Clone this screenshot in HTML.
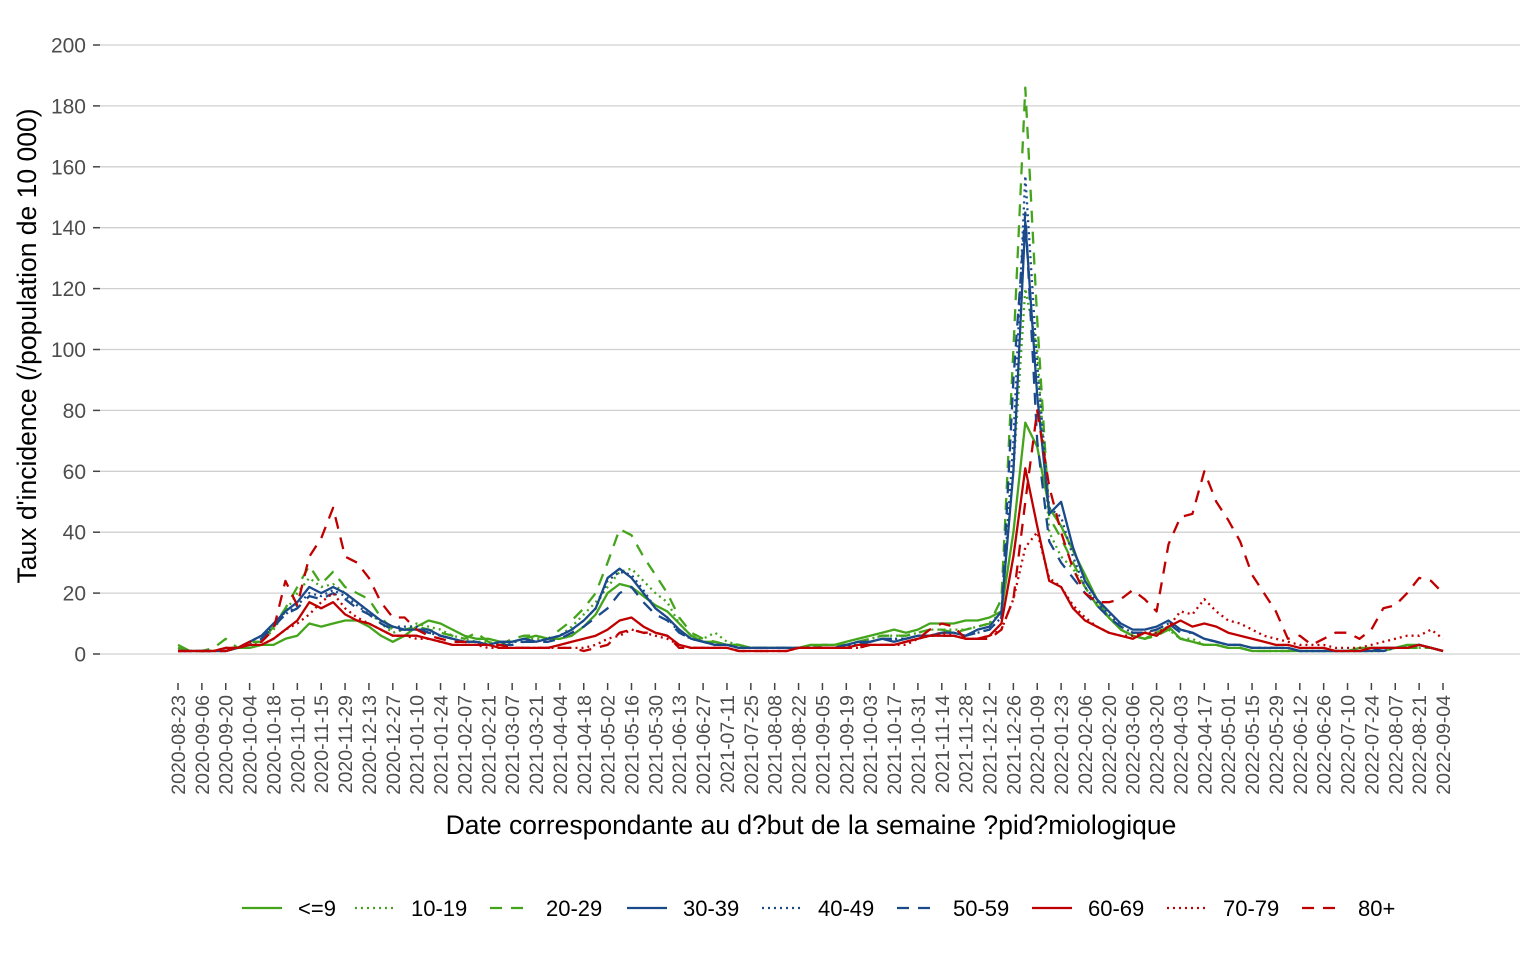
<!DOCTYPE html>
<html><head><meta charset="utf-8"><style>
body{margin:0;background:#fff;}
svg{display:block;font-family:"Liberation Sans",Arial,sans-serif;}
</style></head><body>
<svg id="c" width="1536" height="960"></svg>
<script>
const dates=[];
(function(){let d=new Date(Date.UTC(2020,7,23));for(let i=0;i<107;i++){dates.push(d.toISOString().slice(0,10));d=new Date(d.getTime()+7*864e5);}})();
const yTicks=[0,20,40,60,80,100,120,140,160,180,200];
const seriesNames=["<=9","10-19","20-29","30-39","40-49","50-59","60-69","70-79","80+"];
const s0=[2,1,1,1,1,2,2,3,3,5, 6,10,9,10,11,11,9,6,4,6, 9,11,10,8,6,5,5,4,4,5, 6,5,5,6,9,13,20,23,22,19, 16,14,10,6,4,4,3,3,2,2, 2,2,2,3,3,3,4,5,6,7, 8,7,8,10,10,10,11,11,12,14, 40,76,68,48,42,34,26,18,12,8, 6,5,7,9,5,4,3,3,2,2, 1,1,1,1,1,1,1,1,1,2, 2,2,2,3,3,2,1];
const s1=[2,1,1,1,2,2,3,4,8,14, 20,25,22,23,20,17,14,10,7,8, 10,9,8,6,5,4,4,3,4,5, 5,5,6,9,13,17,22,27,28,24, 20,17,10,6,5,7,4,3,2,2, 2,2,2,2,3,3,3,4,5,6, 6,6,7,8,8,8,8,9,10,14, 60,120,100,40,32,28,22,16,12,8, 6,5,6,8,5,5,3,3,2,2, 1,1,1,1,1,1,1,1,1,1, 1,1,2,2,2,2,1];
const s2=[3,1,1,2,5,2,4,4,9,15, 22,29,23,27,22,20,18,12,8,8, 9,8,7,6,5,7,4,3,5,6, 6,5,8,11,15,20,30,41,39,32, 26,20,12,7,5,4,3,3,2,2, 2,2,2,2,3,3,3,4,5,6, 6,6,7,8,8,7,8,9,10,18, 100,186,110,45,38,30,22,16,12,8, 6,5,6,8,5,4,3,3,2,2, 1,1,1,1,1,1,1,1,1,1, 1,1,2,2,2,2,1];
const s3=[1,1,1,1,1,2,4,6,10,14, 17,22,20,22,20,17,14,11,9,8, 8,8,6,5,4,4,3,4,4,5, 4,5,6,8,11,15,25,28,25,20, 15,12,8,5,4,3,3,2,2,2, 2,2,2,2,2,2,3,4,4,5, 4,5,6,6,7,7,6,8,9,14, 60,142,85,46,50,35,24,18,14,10, 8,8,9,11,8,7,5,4,3,3, 2,2,2,2,1,1,1,1,1,1, 1,2,2,2,3,2,1];
const s4=[1,1,1,1,2,2,4,6,9,13, 16,20,19,21,19,16,13,11,9,9, 9,7,6,5,4,4,3,3,4,4, 4,5,6,8,11,15,24,27,26,21, 15,12,7,5,4,3,3,2,2,2, 2,2,2,2,2,2,3,3,4,5, 5,5,6,6,7,7,6,7,8,12, 70,157,95,48,45,32,22,17,13,9, 7,7,8,10,8,7,5,4,3,3, 2,2,2,2,1,1,1,1,1,1, 1,1,2,2,3,2,1];
const s5=[1,1,1,1,1,2,3,5,9,13, 15,19,18,20,18,15,13,10,8,8, 8,7,6,5,4,4,3,3,3,4, 4,4,5,7,9,12,15,20,22,17, 13,11,7,5,4,3,3,2,2,2, 2,2,2,2,2,2,3,3,4,5, 5,5,6,6,6,6,6,7,8,12, 90,145,70,37,30,25,20,16,12,9, 7,7,8,10,7,7,5,4,3,3, 2,2,2,2,1,1,1,1,1,1, 1,1,2,2,3,2,1];
const s6=[1,1,1,1,2,2,3,3,5,8, 11,17,15,17,13,11,10,8,6,6, 6,5,4,3,3,3,3,2,2,2, 2,2,3,4,5,6,8,11,12,9, 7,6,3,2,2,2,2,1,1,1, 1,1,2,2,2,2,2,3,3,3, 3,4,5,6,6,6,5,5,6,10, 32,61,42,24,22,15,11,9,7,6, 5,7,6,9,11,9,10,9,7,6, 5,4,3,3,2,2,2,1,1,1, 2,2,2,2,3,2,1];
const s7=[1,1,1,1,1,2,3,3,5,8, 10,13,17,20,15,12,10,8,6,6, 5,5,4,3,3,3,2,2,2,2, 2,2,2,2,2,3,5,6,8,7, 6,5,3,2,2,2,2,1,1,1, 1,1,2,2,2,2,2,2,3,3, 3,3,5,6,7,6,5,5,6,8, 18,35,40,25,22,16,12,9,7,6, 6,7,7,9,14,13,18,14,11,10, 8,6,5,4,3,3,3,2,2,2, 3,4,5,6,6,8,5];
const s8=[1,1,1,1,1,2,4,4,8,24, 16,32,38,48,32,30,25,17,12,12, 8,6,5,4,4,3,3,3,2,2, 2,2,2,2,1,2,3,7,8,7, 7,6,2,2,2,2,2,1,1,1, 1,1,2,2,2,2,2,2,3,3, 3,4,5,8,10,9,5,5,5,8, 18,50,80,55,40,28,20,17,17,18, 21,18,14,36,45,46,60,50,44,37, 26,20,14,5,6,3,5,7,7,5, 8,15,16,20,25,24,20];
const seriesVals=[s0,s1,s2,s3,s4,s5,s6,s7,s8];
const G="#44a51c",B="#1a4a8a",R="#c00000";
const styles=[[G,"none"],[G,"2,4"],[G,"12,9"],[B,"none"],[B,"2,4"],[B,"12,9"],[R,"none"],[R,"2,4"],[R,"12,9"]];
const NS="http://www.w3.org/2000/svg";
const svg=document.getElementById("c");
function mk(t,a,p){const e=document.createElementNS(NS,t);for(const k in a)e.setAttribute(k,a[k]);(p||svg).appendChild(e);return e;}
const x0=178,dx=(1443-178)/106;
const xS=i=>x0+i*dx;
const yS=v=>654-v*(609/200);
const gg=mk("g",{});
yTicks.forEach(t=>{
 const l=mk("line",{x1:100,x2:1520,y1:yS(t),y2:yS(t),stroke:"#d0d0d0","stroke-width":1.3},gg);
 
 const tk=mk("line",{x1:93,x2:100,y1:yS(t),y2:yS(t),stroke:"#444","stroke-width":1.5},gg);
 
 const tx=mk("text",{x:86,y:yS(t)+7.5,"text-anchor":"end","font-size":21,fill:"#4d4d4d"},gg);
 tx.textContent=t;
});
const xg=mk("g",{});
for(let i=0;i<dates.length;i+=2){
 const x=xS(i);
 const tk=mk("line",{x1:x,x2:x,y1:683,y2:690,stroke:"#444","stroke-width":1.5},xg);
 
 const tx=mk("text",{x:0,y:0,"text-anchor":"end","font-size":19.5,fill:"#4d4d4d",transform:`translate(${x+7},695) rotate(-90)`},xg);
 tx.textContent=dates[i];
}
seriesVals.forEach((vals,k)=>{
 const d=vals.map((v,i)=>(i?"L":"M")+xS(i).toFixed(1)+","+yS(v).toFixed(1)).join("");
 const p=mk("path",{d:d,fill:"none",stroke:styles[k][0],"stroke-width":2.3,"stroke-dasharray":styles[k][1],"stroke-linejoin":"round"});
 
 
});
const xt=mk("text",{x:811,y:834,"text-anchor":"middle","font-size":26.5,fill:"#000"});
xt.textContent="Date correspondante au d?but de la semaine ?pid?miologique";

const yt=mk("text",{x:0,y:0,"text-anchor":"middle","font-size":26.5,fill:"#000",transform:"translate(36,346) rotate(-90)"});
yt.textContent="Taux d'incidence (/population de 10 000)";

const lg=mk("g",{});
const lx=[242,355,490,627,762,897,1032,1167,1302];
seriesNames.forEach((n,k)=>{
 const e=mk("g",{},lg);
 mk("line",{x1:lx[k],x2:lx[k]+40,y1:908,y2:908,stroke:styles[k][0],"stroke-width":2.3,"stroke-dasharray":styles[k][1]},e);
 const t=mk("text",{x:lx[k]+56,y:916,"font-size":22,fill:"#000"},e);t.textContent=n;
});
</script>
</body></html>
